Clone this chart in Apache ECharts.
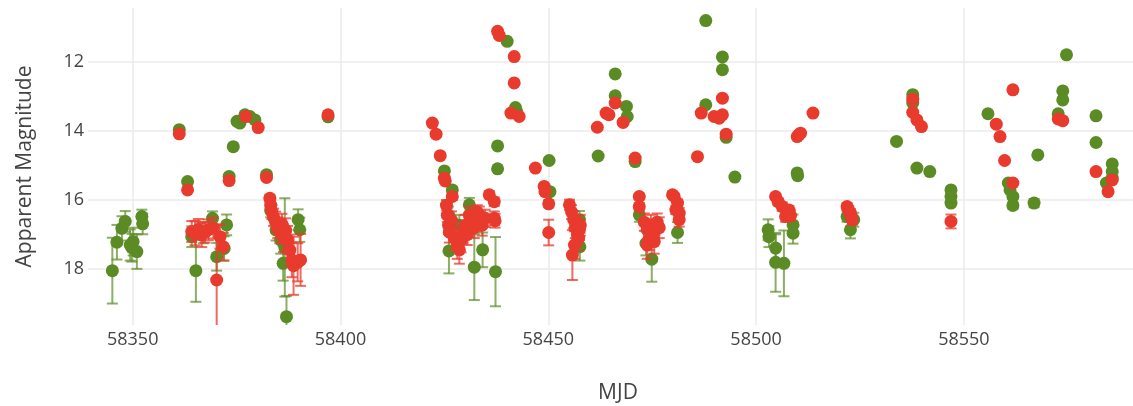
<!DOCTYPE html>
<html>
<head>
<meta charset="utf-8">
<script src="https://cdn.jsdelivr.net/npm/echarts@6/dist/echarts.min.js"></script>
<style>
html,body{margin:0;padding:0;background:#fff;}
#chart{width:1133px;height:406px;}
</style>
</head>
<body>
<div id="chart"></div>
<script>
// [MJD, magnitude, error]
const greenObs = [
  [58345.1,18.04,0.95],[58346.2,17.22,0.5],[58347.4,16.82,0.35],[58348.2,16.62,0.3],
  [58349.4,17.30,0.45],[58349.8,17.38,0.4],[58350.1,17.20,0.4],[58351.0,17.49,0.5],
  [58352.2,16.48,0.2],[58352.4,16.69,0.3],
  [58361.2,13.97,0.02],[58363.2,15.47,0.03],[58364.2,17.06,0.3],[58365.2,18.04,0.9],
  [58367.0,16.95,0.3],[58369.2,16.53,0.2],[58370.2,17.64,0.4],[58372.0,17.40,0.35],
  [58372.6,16.72,0.3],[58373.2,15.32,0.03],[58374.2,14.46,0.02],[58375.1,13.73,0.02],
  [58375.8,13.78,0.02],[58377.0,13.54,0.02],[58378.2,13.59,0.02],[58379.4,13.69,0.02],
  [58382.2,15.27,0.03],[58383.2,16.30,0.2],[58384.5,16.87,0.3],[58385.6,17.15,0.4],
  [58386.2,17.83,0.5],[58386.6,17.37,1.42],[58387.0,19.37,0.6],[58389.8,16.57,0.3],
  [58390.2,16.86,0.35],[58397.0,13.60,0.02],
  [58425.0,15.16,0.05],[58426.1,17.47,0.65],[58426.0,16.44,0.25],[58426.9,15.71,0.08],
  [58428.6,16.73,0.3],[58431.0,16.14,0.2],[58432.2,17.94,0.95],[58432.9,16.60,0.3],
  [58434.2,17.44,0.5],[58437.3,18.07,1.0],[58437.8,14.44,0.03],[58437.8,15.10,0.04],
  [58440.1,11.42,0.02],[58442.1,13.33,0.02],[58442.4,13.45,0.02],[58450.2,14.86,0.03],
  [58450.4,15.76,0.06],
  [58457.5,16.57,0.25],[58457.6,17.35,0.4],
  [58462.0,14.73,0.03],[58466.1,12.36,0.02],[58466.1,12.99,0.02],[58468.8,13.30,0.02],
  [58469.0,13.59,0.02],[58470.9,14.89,0.03],[58471.9,16.43,0.2],[58473.5,17.25,0.35],
  [58474.9,17.71,0.65],
  [58481.1,16.94,0.3],[58487.9,10.82,0.02],[58487.9,13.25,0.02],[58491.9,11.87,0.02],
  [58491.9,12.24,0.02],[58492.8,14.19,0.02],[58494.9,15.34,0.03],
  [58502.9,16.86,0.3],[58503.1,17.06,0.3],[58504.7,17.39,0.4],[58504.7,17.80,0.85],
  [58506.7,17.83,0.95],[58508.9,16.72,0.3],[58508.9,16.96,0.3],[58509.9,15.22,0.05],
  [58510.0,15.30,0.05],
  [58521.9,16.48,0.15],[58523.5,16.57,0.2],[58522.7,16.86,0.25],
  [58533.8,14.31,0.02],[58537.7,12.96,0.02],[58537.7,13.20,0.02],[58538.7,15.08,0.03],
  [58541.8,15.18,0.03],[58546.9,15.71,0.05],[58546.9,15.90,0.05],[58546.9,16.09,0.06],
  [58555.8,13.51,0.02],[58560.7,15.51,0.04],[58561.1,15.71,0.05],[58561.8,15.90,0.06],
  [58561.8,16.16,0.1],[58566.9,16.09,0.12],[58567.8,14.70,0.03],[58572.7,13.51,0.02],
  [58573.8,12.85,0.02],[58573.8,13.11,0.02],[58574.7,11.81,0.02],[58581.8,13.57,0.02],
  [58581.8,14.34,0.02],[58584.3,15.51,0.04],[58585.7,14.96,0.03],[58585.7,15.18,0.03],
  [58585.7,15.37,0.04]
];
const redObs = [
  [58361.2,14.09,0.02],[58363.2,15.71,0.03],[58364.2,16.91,0.3],[58365.0,16.96,0.35],
  [58365.8,16.85,0.3],[58366.6,17.01,0.35],[58367.4,16.93,0.3],[58368.2,16.86,0.3],
  [58369.4,16.81,0.3],[58370.2,18.31,1.6],[58371.0,17.06,0.35],[58371.8,17.35,0.4],
  [58373.2,15.44,0.03],[58377.2,13.59,0.02],[58380.2,13.91,0.02],[58382.2,15.35,0.03],
  [58383.0,15.95,0.1],[58383.2,16.15,0.15],[58383.5,16.35,0.2],[58383.9,16.50,0.25],
  [58384.4,16.64,0.3],[58384.9,16.80,0.3],[58385.4,16.90,0.35],[58385.9,16.70,0.3],
  [58386.3,17.10,0.4],[58386.8,16.88,0.35],[58387.3,17.15,0.4],[58387.8,17.45,0.45],
  [58388.3,17.73,0.5],[58388.7,17.90,0.84],[58389.7,17.80,0.55],[58390.4,17.73,0.75],
  [58397.0,13.54,0.02],
  [58422.1,13.78,0.02],[58423.0,14.10,0.02],[58424.0,14.72,0.03],[58425.0,15.37,0.05],
  [58425.2,15.45,0.05],[58425.5,16.15,0.15],[58425.7,16.44,0.2],[58426.0,16.73,0.25],
  [58426.2,16.93,0.3],[58426.7,16.58,0.25],[58426.9,15.90,0.1],[58427.4,17.10,0.35],
  [58428.1,17.30,0.4],[58428.6,17.44,0.4],[58429.0,17.16,0.35],[58429.5,16.93,0.3],
  [58430.0,16.73,0.3],[58430.5,17.00,0.3],[58431.0,16.44,0.25],[58431.5,16.64,0.3],
  [58432.2,16.80,0.3],[58432.9,16.35,0.2],[58433.4,16.44,0.25],[58434.1,16.73,0.3],
  [58434.8,16.53,0.25],[58435.8,15.85,0.1],[58437.0,16.05,0.12],[58437.0,16.53,0.2],
  [58437.2,16.60,0.2],[58437.8,11.13,0.02],[58438.2,11.25,0.02],[58441.8,11.86,0.02],
  [58441.8,12.62,0.02],[58441.0,13.49,0.02],[58443.0,13.59,0.02],[58446.9,15.08,0.03],
  [58449.0,15.61,0.05],[58449.2,15.76,0.05],[58450.1,16.11,0.1],[58450.1,16.94,0.37],
  [58455.1,16.14,0.15],[58455.6,16.35,0.2],[58455.8,17.59,0.72],[58456.1,16.57,0.25],
  [58456.3,17.30,0.4],[58456.5,16.80,0.3],[58457.0,17.00,0.3],[58457.3,17.10,0.35],
  [58457.5,16.86,0.3],[58457.7,16.73,0.3],
  [58461.8,13.90,0.02],[58463.9,13.49,0.02],[58464.6,13.54,0.02],[58466.1,13.20,0.02],
  [58468.0,13.76,0.02],[58470.9,14.79,0.03],[58471.9,15.90,0.08],[58471.9,16.19,0.1],
  [58473.1,16.64,0.25],[58473.8,16.86,0.3],[58473.8,17.30,0.4],[58474.3,17.10,0.35],
  [58474.7,16.73,0.3],[58475.5,16.93,0.3],[58475.5,17.20,0.35],[58476.2,16.64,0.25],
  [58476.7,16.80,0.3],
  [58479.9,15.85,0.08],[58480.3,15.90,0.08],[58481.1,16.09,0.1],[58481.5,16.38,0.15],
  [58481.5,16.57,0.2],[58480.7,16.29,0.12],[58485.9,14.75,0.03],[58486.8,13.49,0.02],
  [58489.9,13.59,0.02],[58491.1,13.64,0.02],[58491.9,13.54,0.02],[58491.9,13.06,0.02],
  [58492.8,14.10,0.02],
  [58504.7,15.90,0.08],[58505.3,16.05,0.1],[58506.3,16.19,0.12],[58507.1,16.48,0.15],
  [58507.9,16.29,0.12],[58508.3,16.45,0.15],[58509.9,14.17,0.02],[58510.3,14.12,0.02],
  [58510.7,14.07,0.02],[58513.7,13.49,0.02],
  [58521.9,16.19,0.1],[58522.3,16.30,0.12],[58522.7,16.38,0.12],[58523.1,16.57,0.15],
  [58537.7,13.09,0.02],[58537.7,13.47,0.02],[58538.7,13.69,0.02],[58539.8,13.88,0.02],
  [58546.9,16.62,0.2],
  [58557.8,13.81,0.02],[58558.7,14.17,0.02],[58559.8,14.86,0.03],[58561.8,12.82,0.02],
  [58561.8,15.51,0.04],[58572.7,13.66,0.02],[58573.8,13.71,0.02],[58581.8,15.18,0.03],
  [58584.7,15.76,0.04],[58585.7,15.42,0.04]
];
const xTicks = [58350, 58400, 58450, 58500, 58550];
const yTicks = [12, 14, 16, 18];
const xRange = [58339.24, 58590.7];
const yRange = [10.457, 19.61];

const GREEN = '#5b8b25';
const RED = '#e93a2e';

function errorBars(color) {
  return function (params, api) {
    const x = api.value(0), y = api.value(1), e = api.value(2);
    const lo = y - e, hi = y + e;
    const top = api.coord([x, Math.max(lo, yRange[0])]);
    const bot = api.coord([x, Math.min(hi, yRange[1])]);
    const w = 5.5;
    const style = { stroke: color, lineWidth: 2 };
    const children = [{ type: 'line', shape: { x1: top[0], y1: top[1], x2: bot[0], y2: bot[1] }, style: style }];
    if (lo >= yRange[0]) children.push({ type: 'line', shape: { x1: top[0] - w, y1: top[1], x2: top[0] + w, y2: top[1] }, style: style });
    if (hi <= yRange[1]) children.push({ type: 'line', shape: { x1: bot[0] - w, y1: bot[1], x2: bot[0] + w, y2: bot[1] }, style: style });
    return { type: 'group', children: children };
  };
}

const chart = echarts.init(document.getElementById('chart'), null, { renderer: 'canvas' });
const font = "'Open Sans', 'Noto Sans', sans-serif";
chart.setOption({
  animation: false,
  backgroundColor: '#fff',
  grid: { left: 88, right: 0, top: 8, bottom: 81, containLabel: false, outerBoundsMode: 'none' },
  xAxis: {
    type: 'value', min: xRange[0], max: xRange[1],
    name: 'MJD', nameLocation: 'middle', nameGap: 58,
    nameTextStyle: { fontFamily: font, fontSize: 21, color: '#444', padding: [0, 0, 0, 15] },
    axisLine: { show: false },
    axisTick: { show: false, customValues: xTicks },
    axisLabel: { customValues: xTicks, formatter: v => String(v), fontFamily: font, fontSize: 18, color: '#444', margin: 6 },
    splitLine: { show: true, lineStyle: { color: '#ebebeb', width: 1.5 } }
  },
  yAxis: {
    type: 'value', min: yRange[0], max: yRange[1], inverse: true,
    name: 'Apparent Magnitude', nameLocation: 'middle', nameGap: 52,
    nameTextStyle: { fontFamily: font, fontSize: 21, color: '#444' },
    axisLine: { show: false },
    axisTick: { show: false, customValues: yTicks },
    axisLabel: { customValues: yTicks, formatter: v => String(v), fontFamily: font, fontSize: 18, color: '#444', margin: 4 },
    splitLine: { show: true, lineStyle: { color: '#ebebeb', width: 1.5 } }
  },
  series: [
    { type: 'custom', renderItem: errorBars('rgba(91,139,37,0.7)'), data: greenObs, clip: true, z: 1 },
    { type: 'scatter', data: greenObs.map(d => [d[0], d[1]]), symbolSize: 13,
      itemStyle: { color: GREEN, opacity: 1 }, z: 2 },
    { type: 'custom', renderItem: errorBars('rgba(233,58,46,0.75)'), data: redObs, clip: true, z: 3 },
    { type: 'scatter', data: redObs.map(d => [d[0], d[1]]), symbolSize: 13,
      itemStyle: { color: RED, opacity: 1 }, z: 4 }
  ]
});
</script>
</body>
</html>
